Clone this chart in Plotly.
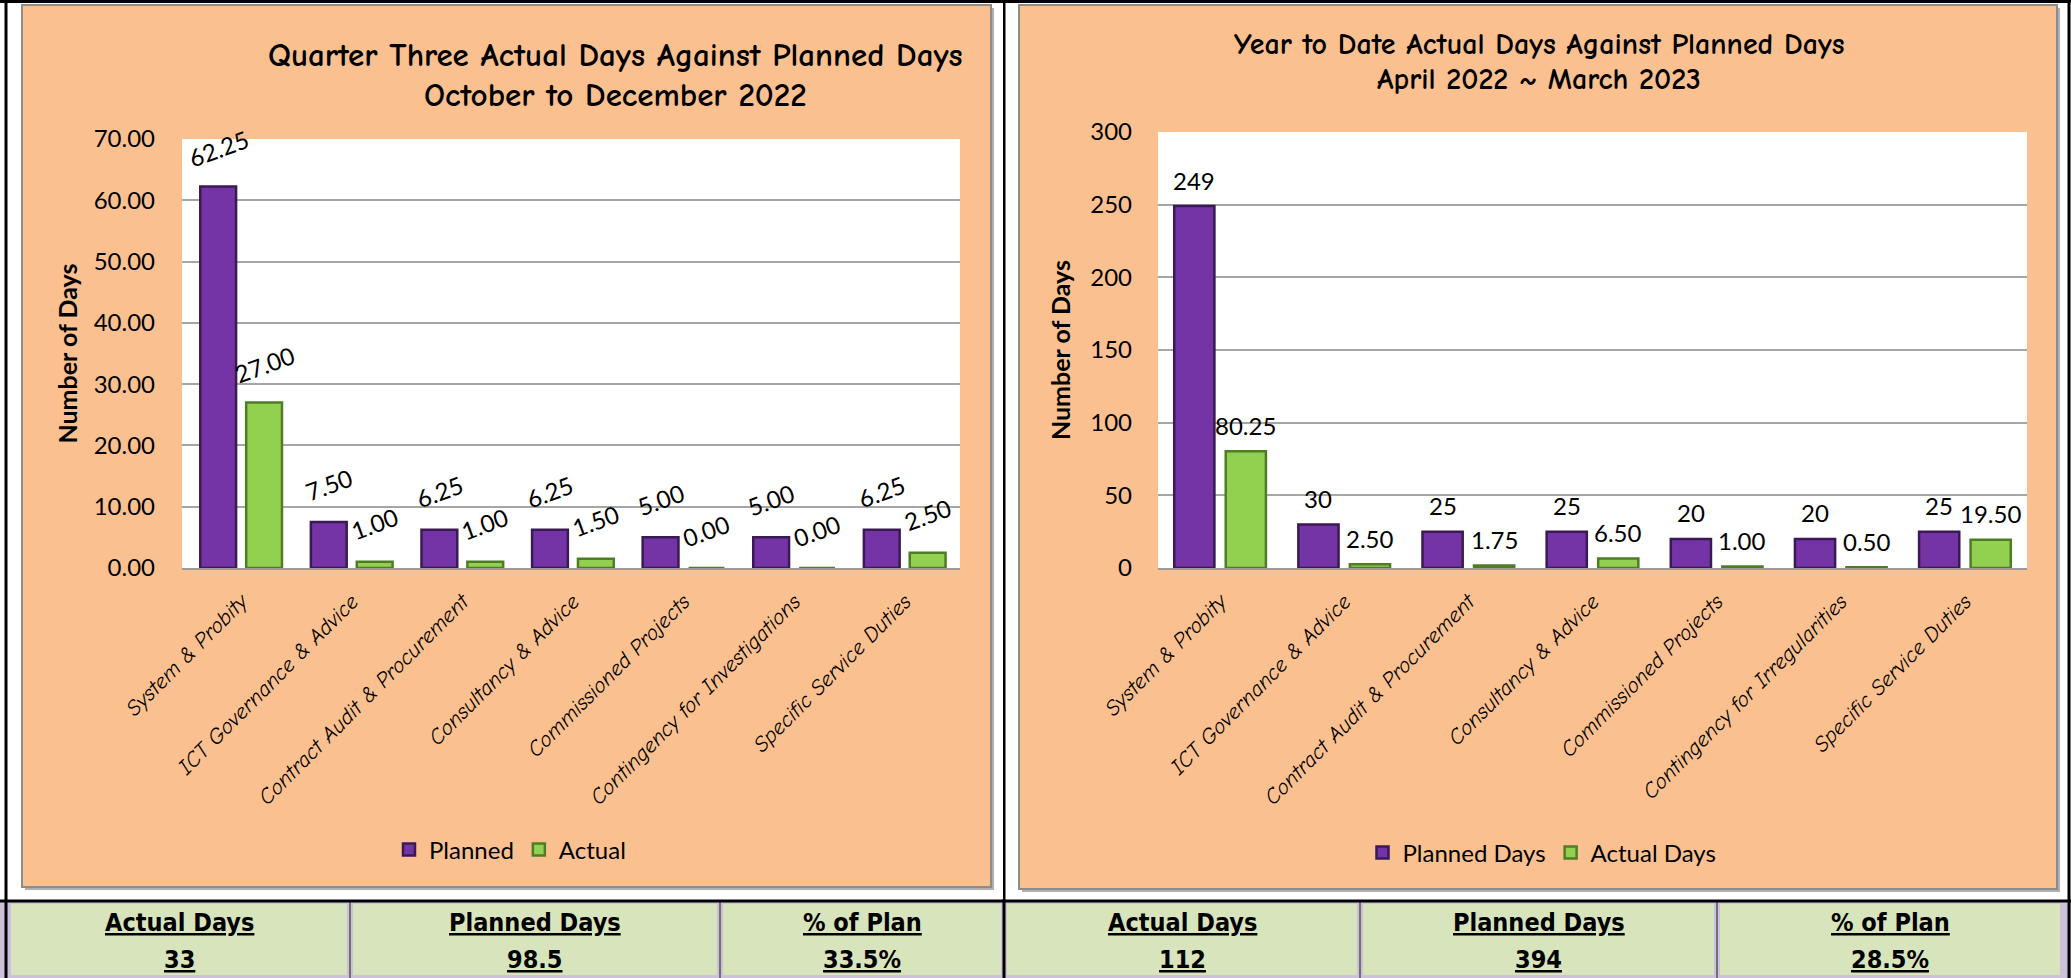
import plotly.graph_objects as go

W, H = 2071, 978

# ---------------- data ----------------
q3_categories = ["System & Probity", "ICT Governance & Advice", "Contract Audit & Procurement",
                 "Consultancy & Advice", "Commissioned Projects", "Contingency for Investigations",
                 "Specific Service Duties"]
q3_planned = [62.25, 7.50, 6.25, 6.25, 5.00, 5.00, 6.25]
q3_actual = [27.00, 1.00, 1.00, 1.50, 0.00, 0.00, 2.50]

ytd_categories = ["System & Probity", "ICT Governance & Advice", "Contract Audit & Procurement",
                  "Consultancy & Advice", "Commissioned Projects", "Contingency for Irregularities",
                  "Specific Service Duties"]
ytd_planned = [249, 30, 25, 25, 20, 20, 25]
ytd_actual = [80.25, 2.50, 1.75, 6.50, 1.00, 0.50, 19.50]

summary_headers = ["Actual Days", "Planned Days", "% of Plan", "Actual Days", "Planned Days", "% of Plan"]
summary_values = ["33", "98.5", "33.5%", "112", "394", "28.5%"]

# ---------------- styles ----------------
ORANGE = "#fac090"
GREEN_BOX = "#d8e4bc"
LAVENDER = "#ccc0da"
PURPLE = "#7434a6"
PURPLE_EDGE = "#3a1a55"
GREEN = "#92d050"
GREEN_EDGE = "#4f7d25"
BODY_FONT = "Lato, Carlito, Calibri, sans-serif"
COMIC = "Comic Sans MS, Comic Neue, Lato, sans-serif"
BOX_FONT = "Liberation Sans Narrow, DejaVu Sans Condensed, Arial Narrow, sans-serif"
BARGAP = 0.17
BARGROUPGAP = 0.22


def X(px):
    return px / W


def Y(py):
    return 1 - py / H


fig = go.Figure()


def add_bars(cats, vals, name, color, edge, xa, ya, leg):
    fig.add_trace(go.Bar(x=cats, y=vals, name=name, xaxis=xa, yaxis=ya,
                         marker=dict(color=color, line=dict(color=edge, width=2.5)),
                         legend=leg, cliponaxis=False))


add_bars(q3_categories, q3_planned, "Planned", PURPLE, PURPLE_EDGE, "x", "y", "legend")
add_bars(q3_categories, q3_actual, "Actual", GREEN, GREEN_EDGE, "x", "y", "legend")
add_bars(ytd_categories, ytd_planned, "Planned Days", PURPLE, PURPLE_EDGE, "x2", "y2", "legend2")
add_bars(ytd_categories, ytd_actual, "Actual Days", GREEN, GREEN_EDGE, "x2", "y2", "legend2")

shapes = []
# black frame lines
shapes.append(dict(type="line", xref="paper", yref="paper", x0=0, x1=1, y0=Y(1.5), y1=Y(1.5),
                   line=dict(color="black", width=3), layer="below"))
# panel shadows and panels
for (x0, x1, y0, y1) in [(22, 991, 5, 887), (1019, 2057, 5, 889)]:
    shapes.append(dict(type="rect", xref="paper", yref="paper", x0=X(x0 + 3), x1=X(x1 + 3),
                       y0=Y(y1 + 3), y1=Y(y0 + 3), fillcolor="#b0b0b0", line=dict(width=0), layer="below"))
    shapes.append(dict(type="rect", xref="paper", yref="paper", x0=X(x0), x1=X(x1),
                       y0=Y(y1), y1=Y(y0), fillcolor=ORANGE, line=dict(color="#8c8c8c", width=2),
                       layer="below"))
# white plot areas
for xr, yr in [("x domain", "y domain"), ("x2 domain", "y2 domain")]:
    shapes.append(dict(type="rect", xref=xr, yref=yr, x0=0, x1=1, y0=0, y1=1,
                       fillcolor="white", line=dict(width=0), layer="below"))
# summary row
shapes.append(dict(type="rect", xref="paper", yref="paper", x0=0, x1=1, y0=0, y1=Y(902),
                   fillcolor=LAVENDER, line=dict(width=0), layer="below"))
edges = [8, 350, 720, 1004, 1360, 1717, 2063]
for i in range(6):
    shapes.append(dict(type="rect", xref="paper", yref="paper", x0=X(edges[i] + 3), x1=X(edges[i + 1] - 3),
                       y0=Y(975), y1=Y(904), fillcolor=GREEN_BOX, line=dict(width=0), layer="below"))
for e in [350, 720, 1360, 1717]:
    shapes.append(dict(type="line", xref="paper", yref="paper", x0=X(e), x1=X(e), y0=0, y1=Y(902),
                       line=dict(color="#555555", width=1.5), layer="below"))
shapes.append(dict(type="line", xref="paper", yref="paper", x0=0, x1=1, y0=Y(901), y1=Y(901),
                   line=dict(color="black", width=3), layer="below"))
for xv in [6, 1004, 2069]:
    shapes.append(dict(type="line", xref="paper", yref="paper", x0=X(xv), x1=X(xv), y0=0, y1=1,
                       line=dict(color="black", width=3), layer="below"))
# white gap between panels
shapes.append(dict(type="rect", xref="paper", yref="paper", x0=X(995), x1=X(1003), y0=Y(899), y1=Y(3),
                   fillcolor="white", line=dict(width=0), layer="below"))
shapes.append(dict(type="rect", xref="paper", yref="paper", x0=X(1006), x1=X(1016), y0=Y(899), y1=Y(3),
                   fillcolor="white", line=dict(width=0), layer="below"))

annotations = []
# titles
annotations.append(dict(text="<b>Quarter Three Actual Days Against Planned Days</b>", x=X(615), y=Y(55),
                        xref="paper", yref="paper", showarrow=False, xanchor="center", yanchor="middle",
                        font=dict(family=COMIC, size=33, color="black")))
annotations.append(dict(text="<b>October to December 2022</b>", x=X(615), y=Y(95),
                        xref="paper", yref="paper", showarrow=False, xanchor="center", yanchor="middle",
                        font=dict(family=COMIC, size=33, color="black")))
annotations.append(dict(text="<b>Year to Date Actual Days Against Planned Days</b>", x=X(1539), y=Y(44),
                        xref="paper", yref="paper", showarrow=False, xanchor="center", yanchor="middle",
                        font=dict(family=COMIC, size=30, color="black")))
annotations.append(dict(text="<b>April 2022 ~ March 2023</b>", x=X(1539), y=Y(79),
                        xref="paper", yref="paper", showarrow=False, xanchor="center", yanchor="middle",
                        font=dict(family=COMIC, size=30, color="black")))

# data labels placed at each bar's value through the axes
slot = (1 - BARGAP) / 2
for xa, ya, vals_p, vals_a, fmt_p, fmt_a, ang, shift in [
        ("x", "y", q3_planned, q3_actual, "{:.2f}", "{:.2f}", -20, 38),
        ("x2", "y2", ytd_planned, ytd_actual, "{:.0f}", "{:.2f}", 0, 26)]:
    for i, (vp, va) in enumerate(zip(vals_p, vals_a)):
        for xpos, v, fmt in [(i - slot / 2, vp, fmt_p), (i + slot / 2, va, fmt_a)]:
            annotations.append(dict(text=fmt.format(v), x=xpos, y=v, xref=xa, yref=ya,
                                    showarrow=False, xanchor="center", yanchor="middle",
                                    yshift=shift, textangle=ang,
                                    font=dict(family=BODY_FONT, size=24, color="black")))

# summary boxes
centers = [(edges[i] + edges[i + 1]) / 2 for i in range(6)]
for c, head, val in zip(centers, summary_headers, summary_values):
    annotations.append(dict(text=f"<b><span style='text-decoration:underline'>{head}</span></b>",
                            x=X(c), y=Y(922), xref="paper", yref="paper", showarrow=False,
                            xanchor="center", yanchor="middle",
                            font=dict(family=BOX_FONT, size=25, color="black")))
    annotations.append(dict(text=f"<b><span style='text-decoration:underline'>{val}</span></b>",
                            x=X(c), y=Y(959), xref="paper", yref="paper", showarrow=False,
                            xanchor="center", yanchor="middle",
                            font=dict(family=BOX_FONT, size=25, color="black")))

xaxis_common = dict(tickangle=-45, showgrid=False, showline=True, linecolor="#9a9a9a", linewidth=2,
                    ticks="", ticklabelstandoff=10, automargin=False,
                    tickfont=dict(family=COMIC, size=22, color="black", style="italic"))
yaxis_common = dict(showgrid=True, gridcolor="#a6a6a6", gridwidth=2, zeroline=False, showline=False,
                    ticks="", automargin=False, tickfont=dict(family=BODY_FONT, size=24, color="black"))

fig.update_layout(
    width=W, height=H, autosize=False,
    margin=dict(l=0, r=0, t=0, b=0, pad=0, autoexpand=False),
    paper_bgcolor="white", plot_bgcolor="rgba(0,0,0,0)",
    barmode="group", bargap=BARGAP, bargroupgap=BARGROUPGAP,
    showlegend=True,
    xaxis=dict(domain=[X(182), X(960)], anchor="y", **xaxis_common),
    yaxis=dict(domain=[Y(568), Y(139)], anchor="x", range=[0, 70], dtick=10, tickformat=".2f",
               ticklabelstandoff=26,
               title=dict(text="<b>Number of Days</b>", standoff=8,
                          font=dict(family=BODY_FONT, size=25, color="black")),
               **yaxis_common),
    xaxis2=dict(domain=[X(1158), X(2027)], anchor="y2", **xaxis_common),
    yaxis2=dict(domain=[Y(568), Y(132)], anchor="x2", range=[0, 300], dtick=50, tickformat="d",
                ticklabelstandoff=25,
                title=dict(text="<b>Number of Days</b>", standoff=12,
                           font=dict(family=BODY_FONT, size=25, color="black")),
                **yaxis_common),
    legend=dict(orientation="h", x=X(510), y=Y(850), xanchor="center", yanchor="middle",
                bgcolor="rgba(0,0,0,0)", font=dict(family=BODY_FONT, size=24, color="black"),
                itemwidth=30),
    legend2=dict(orientation="h", x=X(1542), y=Y(853), xanchor="center", yanchor="middle",
                 bgcolor="rgba(0,0,0,0)", font=dict(family=BODY_FONT, size=24, color="black"),
                 itemwidth=30),
    shapes=shapes,
    annotations=annotations,
)

fig.write_html("out.html")
